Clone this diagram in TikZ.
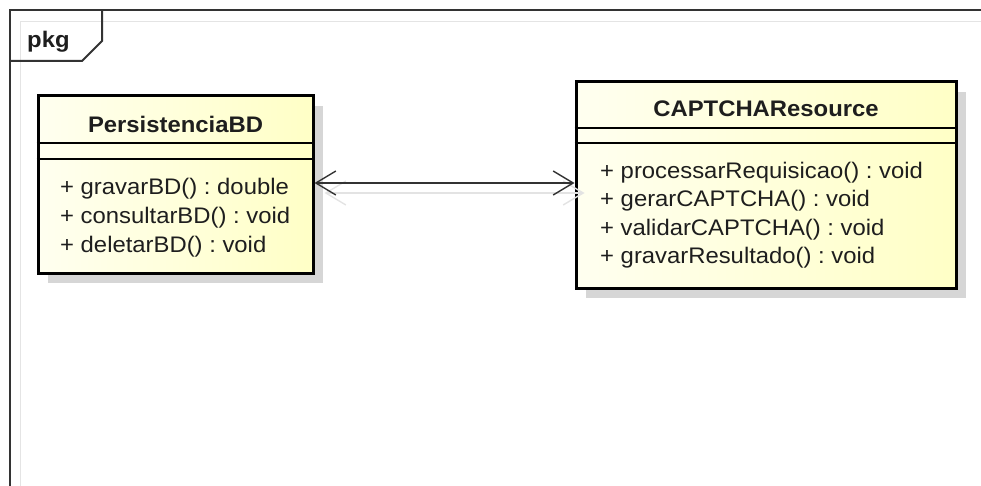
\documentclass[tikz,border=0pt]{standalone}
\usepackage{fontspec}
\setmainfont{Liberation Sans}[FakeStretch=1.06]
\usetikzlibrary{arrows.meta,shadows,calc}

\definecolor{frameline}{HTML}{333333}
\definecolor{innerline}{HTML}{E4E4E4}
\definecolor{classlight}{HTML}{FFFFF0}
\definecolor{classdark}{HTML}{FFFFC6}
\definecolor{shadowgray}{HTML}{D6D6D6}
\definecolor{textdark}{HTML}{1E1E1E}

\begin{document}
\frenchspacing
\begin{tikzpicture}[x=1pt,y=-1pt,
  classbox/.style={draw=black, line width=3pt, inner sep=0pt,
    left color=classlight, right color=classdark,
    general shadow={fill=shadowgray, shadow xshift=10pt, shadow yshift=-10pt}},
  separator/.style={draw=black, line width=1.8pt},
  classtitle/.style={anchor=base, inner sep=0pt, text=textdark,
    font=\fontsize{22.5}{26}\selectfont\bfseries},
  member/.style={anchor=base west, inner sep=0pt, text=textdark,
    font=\fontsize{22.5}{26}\selectfont},
  assoc/.style={draw=frameline, line width=1.4pt,
    {Straight Barb[length=20pt,width=24pt]}-{Straight Barb[length=20pt,width=24pt]}},
  assocshadow/.style={draw=gray!22, line width=1.4pt,
    {Straight Barb[length=20pt,width=24pt]}-{Straight Barb[length=20pt,width=24pt]}}
]
\useasboundingbox (0,0) rectangle (981,486);

% package frame with its tab
\draw[innerline, line width=1.5pt] (20.5,486) -- (20.5,21.5) -- (981,21.5);
\draw[frameline, line width=2pt] (9.5,486) -- (9.5,10.5) -- (981,10.5);
\draw[frameline, line width=2pt] (102,10.5) -- (102,41) -- (82,61) -- (9.5,61);
\node[anchor=base west, inner sep=0pt, text=textdark,
  font=\fontsize{22.5}{24}\selectfont\bfseries] (pkglabel) at (27,48) {pkg};

% class boxes
\node[classbox, minimum width=275pt, minimum height=177pt] (pbd) at (175.5,184.5) {};
\node[classbox, minimum width=380pt, minimum height=206pt] (cap) at (766,185) {};

% faint shadow of the association
\draw[assocshadow] ([xshift=10pt,yshift=-8.5pt]pbd.east) -- ([xshift=10pt,yshift=-8pt]cap.west);

% compartments
\draw[separator] (pbd.west |- 0,143) -- (pbd.east |- 0,143);
\draw[separator] (pbd.west |- 0,159) -- (pbd.east |- 0,159);
\draw[separator] (cap.west |- 0,128) -- (cap.east |- 0,128);
\draw[separator] (cap.west |- 0,143) -- (cap.east |- 0,143);

% PersistenciaBD
\node[classtitle] (pbdname) at (175.5,132.5) {PersistenciaBD};
\node[member] (pbdm1) at (60,195) {+ gravarBD() : double};
\node[member] (pbdm2) at (60,223.5) {+ consultarBD() : void};
\node[member] (pbdm3) at (60,252) {+ deletarBD() : void};

% CAPTCHAResource
\node[classtitle] (capname) at (766,116.5) {CAPTCHAResource};
\node[member] (capm1) at (600,178.5) {+ processarRequisicao() : void};
\node[member] (capm2) at (600,206.7) {+ gerarCAPTCHA() : void};
\node[member] (capm3) at (600,235) {+ validarCAPTCHA() : void};
\node[member] (capm4) at (600,263) {+ gravarResultado() : void};

% association
\draw[assoc] ([yshift=1.5pt]pbd.east) -- ([yshift=2pt]cap.west);
\end{tikzpicture}
\end{document}
